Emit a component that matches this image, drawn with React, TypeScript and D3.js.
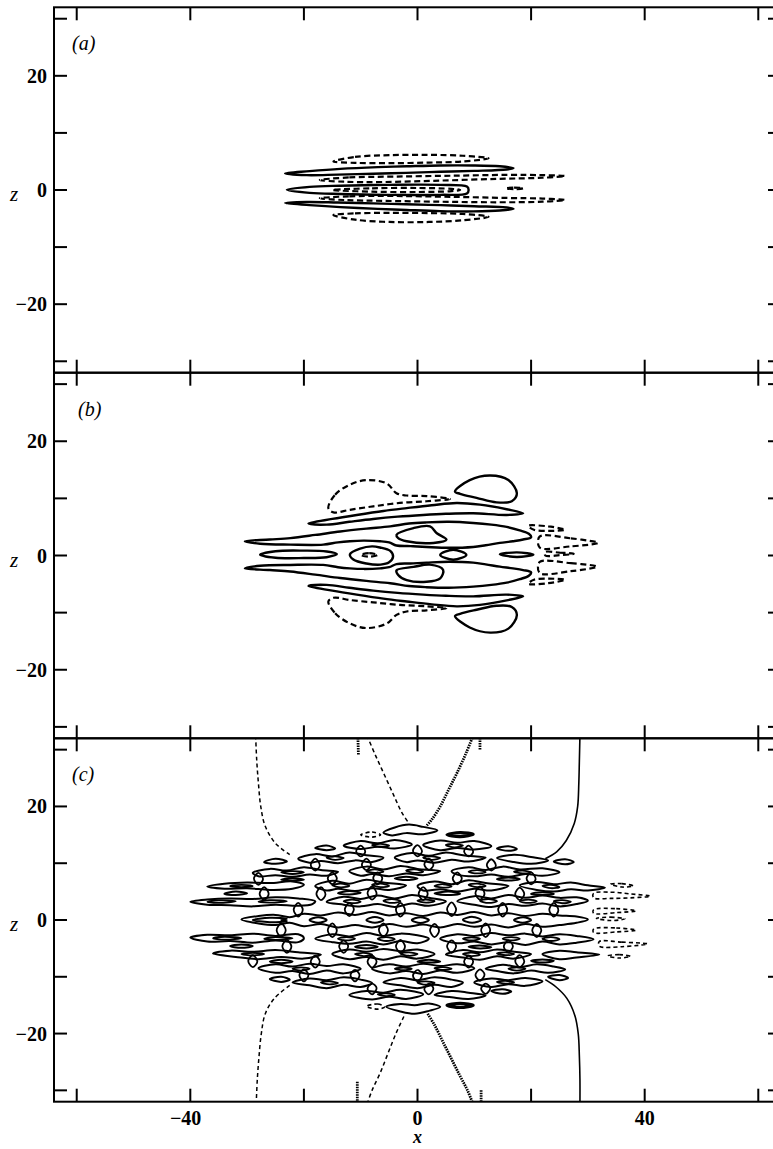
import React from "react";
import * as d3 from "d3";

type Pt = [number, number];

const W = 773;
const H = 1149;

// axes
const xTicks = [-60, -40, -20, 0, 20, 40, 60];
const xLabelTicks = [-40, 0, 40];
const zTicks = [-30, -20, -10, 0, 10, 20, 30];
const zLabelTicks = [-20, 0, 20];
const panelNames = ["(a)", "(b)", "(c)"];
const xDomain: Pt = [-64, 64];
const zDomain: Pt = [-32, 32];

// ---- panel (a) contours, (x, z) ----
const aSolid: Pt[][] = [
  [[-23.3, 2.9], [-19, 3.3], [-13.6, 3.7], [-7, 4.0], [-1.9, 4.15], [4, 4.3], [9.8, 4.3], [14.5, 4.15], [16.9, 3.85], [15.7, 3.6], [10, 3.35], [4, 3.2], [-2, 3.0], [-7.8, 2.85], [-14, 2.7], [-19.5, 2.6]],
  [[-23, 0.05], [-19, 0.55], [-13.6, 0.75], [-5, 0.9], [4, 0.9], [8.7, 0.6], [9.0, 0.0], [8.7, -0.6], [4, -0.85], [-5, -0.85], [-13.6, -0.7], [-19, -0.5]],
  [[-23.3, -2.3], [-19, -2.65], [-13.6, -3.0], [-7, -3.3], [-1.9, -3.5], [4, -3.7], [9.8, -3.75], [14.5, -3.6], [16.9, -3.3], [15.7, -3.05], [10, -2.85], [4, -2.65], [-2, -2.5], [-7.8, -2.35], [-14, -2.2], [-19.5, -2.1]],
];
const aDashed: Pt[][] = [
  [[-14.8, 5.0], [-11, 5.8], [-5, 6.1], [2, 6.15], [8, 6.0], [12.5, 5.55], [8, 5.0], [2, 4.8], [-5, 4.7], [-11, 4.75]],
  [[-17.2, 1.75], [-12, 2.2], [-4, 2.35], [6, 2.5], [16, 2.65], [22, 2.6], [26, 2.45], [22, 2.15], [14, 1.95], [4, 1.65], [-6, 1.4], [-13, 1.45]],
  [[-15, 0.0], [-8, 0.3], [0, 0.35], [6, 0.2], [7.5, 0.0], [6, -0.2], [0, -0.35], [-8, -0.3]],
  [[15.5, 0.3], [17, 0.4], [18.6, 0.3], [17, 0.15]],
  [[-17.2, -1.45], [-12, -1.1], [-4, -1.05], [6, -1.2], [16, -1.4], [22, -1.5], [26, -1.75], [22, -2.05], [14, -2.15], [4, -2.05], [-6, -1.9], [-13, -1.75]],
  [[-14.8, -4.4], [-11, -4.1], [-5, -4.0], [2, -4.05], [8, -4.2], [12.5, -4.7], [8, -5.3], [2, -5.6], [-5, -5.6], [-11, -5.2]],
];

// ---- panel (b) contours ----
const bSolid: Pt[][] = [
  [[6.6, 11.2], [9.2, 13.2], [12.8, 14.0], [16.0, 13.2], [17.5, 10.9], [16.6, 9.5], [13.9, 9.3], [10.4, 10.1], [7.5, 10.8]],
  [[6.6, -10.6], [9.2, -12.6], [12.8, -13.5], [16.0, -12.8], [17.5, -10.4], [16.6, -9.0], [13.9, -8.8], [10.4, -9.5], [7.5, -10.2]],
  [[-19.2, 5.6], [-15, 6.4], [-10.7, 7.1], [-6, 7.8], [-1.9, 8.3], [2.5, 8.8], [6.9, 9.2], [11, 8.9], [15.7, 8.1], [18.6, 7.4], [15.7, 7.1], [9.8, 7.4], [5, 7.3], [1.0, 7.1], [-3.5, 6.8], [-7.8, 6.4], [-12, 5.9], [-16, 5.4]],
  [[-19.2, -5.35], [-15, -6.15], [-10.7, -6.85], [-6, -7.55], [-1.9, -8.05], [2.5, -8.55], [6.9, -8.9], [11, -8.65], [15.7, -7.85], [18.6, -7.15], [15.7, -6.85], [9.8, -7.15], [5, -7.05], [1, -6.85], [-3.5, -6.55], [-7.8, -6.15], [-12, -5.65], [-16, -5.15]],
  [[-30.4, 2.5], [-26, 2.8], [-22.4, 3.05], [-18, 3.6], [-13.6, 4.2], [-9, 4.7], [-4.8, 5.1], [-1.5, 5.6], [1.6, 5.8], [5.5, 5.9], [9.8, 5.7], [13, 5.4], [15.7, 5.0], [18, 4.4], [19.6, 3.8], [20, 3.2], [18.6, 2.8], [16.8, 2.5], [14.5, 2.2], [12, 1.8], [9.8, 1.5], [5.5, 1.35], [1.6, 1.5], [-1.2, 1.65], [-3.7, 1.75], [-5, 2.3], [-6.6, 2.5], [-9.5, 2.6], [-11.9, 2.5], [-14, 2.3], [-16.6, 1.9], [-22.4, 1.9], [-27.7, 2.05]],
  [[-30.4, -2.25], [-26, -2.55], [-22.4, -2.8], [-18, -3.35], [-13.6, -3.95], [-9, -4.45], [-4.8, -4.85], [-1.5, -5.35], [1.6, -5.55], [5.5, -5.65], [9.8, -5.45], [13, -5.15], [15.7, -4.75], [18, -4.15], [19.6, -3.55], [20, -2.95], [18.6, -2.55], [16.8, -2.25], [14.5, -1.95], [12, -1.55], [9.8, -1.25], [5.5, -1.1], [1.6, -1.25], [-1.2, -1.4], [-3.7, -1.5], [-5, -2.05], [-6.6, -2.25], [-9.5, -2.35], [-11.9, -2.25], [-14, -2.05], [-16.6, -1.65], [-22.4, -1.65], [-27.7, -1.8]],
  [[-27.7, 0.15], [-25, 0.75], [-20, 0.85], [-16, 0.7], [-14.2, 0.25], [-16, -0.3], [-20, -0.45], [-25, -0.4]],
  [[-11.9, 0.2], [-10.1, 1.2], [-8, 1.6], [-6.6, 1.4], [-4.8, 0.8], [-4.3, -0.2], [-5, -1.2], [-6.5, -1.6], [-9, -1.4], [-11.3, -0.7]],
  [[-3.7, 3.6], [-0.7, 4.8], [2.2, 5.1], [3.4, 3.9], [5.1, 2.8], [2.8, 2.2], [-1.9, 2.5], [-3.4, 3.05]],
  [[-3.7, -2.6], [-0.7, -2.0], [2.2, -1.6], [4.5, -2.5], [4, -4], [1.6, -4.6], [-1.9, -4.3], [-3.4, -3.4]],
  [[4, 0.1], [6.3, 1.0], [8.6, 0.1], [6.3, -0.75]],
  [[14.5, 0.2], [17.5, 0.55], [20.4, 0.15], [17.5, -0.25]],
];
const bDashed: Pt[][] = [
  [[-15.7, 8.3], [-14.5, 10.65], [-11.9, 12.4], [-8.95, 13.2], [-5.4, 12.6], [-3.7, 10.9], [-1.9, 10.5], [1.6, 10.4], [5.7, 9.9], [1.6, 9.5], [-3.1, 9.2], [-7.8, 8.6], [-11.9, 8.0], [-14.8, 7.55]],
  [[-15.7, -8.06], [-14.5, -10.1], [-11.9, -11.9], [-8.95, -12.7], [-5.4, -11.9], [-3.7, -10.4], [-1.9, -9.8], [1.6, -9.6], [5.1, -9.2], [1.6, -8.9], [-3.1, -8.65], [-7.8, -8.2], [-11.9, -7.8], [-14.8, -7.4]],
  [[19.5, 5.2], [23, 5.1], [26, 4.5], [23, 4.3], [20.5, 4.5]],
  [[21.5, 3.3], [27, 3.0], [31.8, 2.2], [27, 1.6], [21.5, 1.4]],
  [[22.5, 0.6], [25, 0.5], [27.5, 0.3], [25, 0.05], [22.5, 0.0]],
  [[21.5, -1.15], [27, -1.35], [31.6, -1.95], [27, -2.75], [21.5, -3.05]],
  [[19.5, -4.95], [23, -4.85], [26, -4.25], [23, -4.05], [20.5, -4.25]],
  [[-10, 0.1], [-8.5, 0.4], [-7, 0.1], [-8.5, -0.2]],
];

// ---- panel (c) contours ----
const cSolid: Pt[][] = [
  // centre band
  [[-31, 0.1], [-28, 0.7], [-25, 0.9], [-22.5, 0.5], [-20, 1.1], [-17, 0.8], [-14, 1.3], [-11, 0.9], [-8, 1.4], [-5, 0.8], [-2, 1.2], [1, 0.7], [4, 1.3], [7, 0.9], [10, 1.4], [13, 0.8], [16, 1.2], [19, 0.7], [22, 1.1], [25, 0.8], [28, 0.6], [30, 0.1], [28, -0.5], [25, -0.9], [22, -1.2], [19, -0.7], [16, -1.3], [13, -0.8], [10, -1.2], [7, -0.7], [4, -1.3], [1, -0.8], [-2, -1.2], [-5, -0.7], [-8, -1.3], [-11, -0.9], [-14, -1.3], [-17, -0.7], [-20, -1.1], [-22.5, -0.5], [-25, -0.9], [-28, -0.6]],
  [[-19, 0], [-17.5, 0.5], [-16, 0], [-17.5, -0.5]],
  [[-9, 0], [-7.5, 0.55], [-6, 0], [-7.5, -0.5]],
  [[-1, 0], [0.5, 0.5], [2, 0], [0.5, -0.55]],
  [[8, 0.05], [9.7, 0.55], [11.2, 0], [9.6, -0.5]],
  [[17, 0], [18.6, 0.5], [20, 0], [18.5, -0.5]],
  [[-29, 0], [-26, 0.4], [-23, 0.2], [-24, 0], [-23, -0.2], [-26, -0.4]],
  // upper bands
  [[-40, 3.2], [-37, 3.6], [-33, 3.8], [-29, 3.7], [-25, 4.0], [-21, 3.8], [-18, 3.3], [-18.5, 2.8], [-21, 2.5], [-25, 2.7], [-29, 2.4], [-33, 2.6], [-37, 2.7]],
  [[-16, 3.2], [-13, 4.1], [-10, 3.7], [-7, 4.3], [-4, 3.8], [-1, 4.4], [2, 3.9], [5, 3.3], [2, 2.5], [-1, 2.9], [-4, 2.3], [-7, 2.8], [-10, 2.4], [-13, 2.7]],
  [[7, 3.3], [10, 4.2], [13, 3.8], [16, 4.4], [19, 3.9], [22, 4.3], [25, 3.9], [28, 4.0], [30, 3.4], [28, 2.8], [25, 2.4], [22, 2.9], [19, 2.5], [16, 2.8], [13, 2.3], [10, 2.7]],
  [[-37, 5.9], [-34, 6.4], [-30, 6.6], [-26, 6.5], [-22, 6.8], [-20, 6.2], [-22, 5.5], [-26, 5.3], [-30, 5.6], [-34, 5.5]],
  [[-18, 6.0], [-15, 6.9], [-12, 6.4], [-9, 7.1], [-6, 6.6], [-2, 6.1], [-5, 5.3], [-8, 5.6], [-11, 5.1], [-14, 5.5], [-16, 5.2]],
  [[0, 6.0], [3, 6.8], [6, 6.3], [9, 7.0], [12, 6.5], [16, 6.0], [13, 5.2], [10, 5.5], [7, 5.0], [4, 5.4], [1, 5.2]],
  [[18, 6.1], [21, 6.7], [24, 6.3], [27, 6.6], [30, 6.1], [33, 5.7], [30, 5.2], [27, 5.4], [24, 5.0], [21, 5.3]],
  [[-29, 8.3], [-26, 9.0], [-23, 8.7], [-20, 9.3], [-17, 8.8], [-14, 8.5], [-16, 7.8], [-19, 8.0], [-22, 7.6], [-25, 7.9], [-28, 7.7]],
  [[-12, 8.6], [-9, 9.4], [-6, 8.9], [-3, 9.5], [0, 9.0], [4, 8.6], [1, 7.9], [-2, 8.2], [-5, 7.7], [-8, 8.1], [-10, 7.8]],
  [[6, 8.6], [9, 9.3], [12, 8.8], [15, 9.4], [18, 8.9], [22, 9.1], [25, 8.4], [22, 7.8], [19, 8.1], [16, 7.6], [13, 8.0], [10, 7.7], [7, 8.0]],
  [[-21, 10.8], [-18, 11.6], [-15, 11.2], [-12, 11.9], [-9, 11.4], [-6, 11.0], [-8, 10.2], [-11, 10.5], [-14, 10.0], [-17, 10.4], [-19, 10.1]],
  [[-4, 11.0], [-1, 11.8], [2, 11.3], [5, 11.9], [8, 11.4], [12, 11.0], [9, 10.3], [6, 10.6], [3, 10.1], [0, 10.5], [-2, 10.2]],
  [[14, 10.9], [17, 11.5], [20, 11.1], [23, 10.5], [20, 9.9], [17, 10.2]],
  [[-13, 13.1], [-10, 13.9], [-7, 13.5], [-4, 14.1], [-1, 13.3], [-4, 12.6], [-7, 12.9], [-10, 12.5]],
  [[1, 13.2], [4, 14.0], [7, 13.6], [10, 13.9], [13, 13.0], [10, 12.4], [7, 12.7], [4, 12.3]],
  [[-6, 15.4], [-4, 16.3], [-1.5, 16.8], [1, 16.4], [3.5, 15.8], [1, 15.1], [-2, 15.3], [-4.5, 14.9]],
  [[-34, 4.6], [-32, 5.0], [-30, 4.7], [-32, 4.4]],
  [[-14, 4.7], [-12, 5.1], [-10, 4.8], [-12, 4.5]],
  [[3, 4.7], [5.5, 5.0], [7.5, 4.6], [5, 4.4]],
  [[20, 4.6], [22, 4.9], [24, 4.6], [22, 4.4]],
  [[-24, 7.1], [-22, 7.4], [-20, 7.1], [-22, 6.95]],
  [[-4, 7.3], [-2, 7.6], [0, 7.3], [-2, 7.05]],
  [[14, 7.2], [16, 7.5], [18, 7.2], [16, 6.95]],
  [[-27, 10.2], [-25, 10.8], [-23, 10.3], [-25, 9.9]],
  [[24, 10.3], [26, 10.7], [27.5, 10.2], [26, 9.8]],
  [[14, 12.6], [16, 13.0], [17.5, 12.5], [16, 12.2]],
  [[-18, 12.7], [-16, 13.1], [-14.5, 12.6], [-16, 12.3]],
  // lower bands
  [[-40, -3.1], [-37, -2.6], [-33, -2.7], [-29, -2.4], [-25, -2.8], [-21, -2.5], [-20, -3.2], [-21, -3.9], [-25, -3.6], [-29, -4.0], [-33, -3.7], [-37, -3.8]],
  [[-18, -3.3], [-15, -2.5], [-12, -2.9], [-9, -2.3], [-6, -2.8], [-3, -2.4], [0, -2.7], [2, -3.3], [0, -4.1], [-3, -3.7], [-6, -4.3], [-9, -3.8], [-12, -4.2], [-15, -3.9]],
  [[4, -3.3], [7, -2.5], [10, -2.8], [13, -2.3], [16, -2.7], [19, -2.4], [22, -2.9], [25, -2.5], [28, -2.8], [31, -3.4], [28, -4.0], [25, -4.3], [22, -3.8], [19, -4.4], [16, -3.9], [13, -4.3], [10, -3.8], [7, -4.1]],
  [[-36, -5.9], [-33, -5.4], [-29, -5.6], [-25, -5.3], [-21, -5.7], [-17, -6.1], [-20, -6.8], [-24, -6.5], [-28, -6.9], [-32, -6.5]],
  [[-15, -6.0], [-12, -5.2], [-9, -5.6], [-6, -5.1], [-3, -5.5], [0, -5.2], [3, -6.0], [0, -6.8], [-3, -6.4], [-6, -7.0], [-9, -6.5], [-12, -6.9]],
  [[5, -6.1], [8, -5.3], [11, -5.7], [14, -5.2], [17, -5.6], [20, -6.0], [17, -6.8], [14, -6.4], [11, -7.0], [8, -6.6]],
  [[22, -6.0], [25, -5.4], [28, -5.7], [32, -6.1], [28, -6.6], [25, -6.9]],
  [[-28, -8.5], [-25, -7.8], [-22, -8.2], [-19, -7.7], [-16, -8.1], [-13, -7.8], [-10, -8.6], [-13, -9.4], [-16, -8.9], [-19, -9.5], [-22, -9.0], [-25, -9.3]],
  [[-8, -8.6], [-5, -7.8], [-2, -8.2], [1, -7.7], [4, -8.1], [7, -7.8], [10, -8.5], [7, -9.3], [4, -8.9], [1, -9.5], [-2, -9.0], [-5, -9.4]],
  [[12, -8.6], [15, -7.9], [18, -8.3], [21, -7.8], [24, -8.2], [26, -8.7], [23, -9.3], [20, -8.9], [17, -9.4], [14, -9.0]],
  [[-22, -11.0], [-19, -10.3], [-16, -10.6], [-13, -10.1], [-10, -10.5], [-8, -11.1], [-10, -11.8], [-13, -11.4], [-16, -12.0], [-19, -11.5]],
  [[-6, -11.0], [-3, -10.2], [0, -10.6], [3, -10.1], [6, -10.5], [8, -11.0], [6, -11.8], [3, -11.4], [0, -12.0], [-3, -11.5]],
  [[10, -11.0], [13, -10.3], [16, -10.6], [19, -10.2], [22, -10.8], [19, -11.6], [16, -11.3], [13, -11.8]],
  [[-12, -13.2], [-9, -12.5], [-6, -12.8], [-3, -12.3], [1, -13.1], [-2, -13.9], [-5, -13.5], [-8, -14.0]],
  [[3, -13.2], [6, -12.5], [9, -12.8], [12, -13.3], [9, -13.9], [6, -13.6]],
  [[-5.5, -15.3], [-3, -14.8], [-0.5, -15.0], [2, -14.7], [4, -15.3], [2, -16.0], [-0.5, -16.5], [-3, -16.1]],
  [[-33, -4.6], [-31, -4.3], [-29, -4.6], [-31, -4.9]],
  [[-11, -4.7], [-9, -4.4], [-7, -4.7], [-9, -5.0]],
  [[9, -4.7], [11, -4.5], [13, -4.8], [11, -5.0]],
  [[-26, -7.3], [-24, -7.0], [-22, -7.3], [-24, -7.6]],
  [[0, -7.3], [2, -7.0], [4, -7.3], [2, -7.5]],
  [[20, -7.2], [22, -6.95], [24, -7.2], [22, -7.5]],
  [[-26, -10.4], [-24, -10.0], [-22.5, -10.5], [-24, -10.9]],
  [[23, -10.0], [25, -9.7], [26.5, -10.2], [25, -10.6]],
  [[13, -12.5], [15, -12.2], [16.5, -12.6], [15, -13.0]],
];
// small cells nested inside the bands of (c)
const cCells: Pt[][] = [
  [[-37, 3.2], [-35, 3.45], [-32, 3.3], [-35, 3.0]],
  [[-28, 3.2], [-26, 3.5], [-23, 3.3], [-26, 3.05]],
  [[-13, 3.3], [-11.5, 3.6], [-10, 3.2], [-11.5, 2.95]],
  [[-6, 3.4], [-4.5, 3.7], [-3, 3.3], [-4.5, 3.0]],
  [[0, 3.4], [1.5, 3.6], [3, 3.3], [1.5, 3.05]],
  [[11, 3.4], [12.5, 3.7], [14, 3.3], [12.5, 3.0]],
  [[18, 3.3], [19.5, 3.6], [21, 3.3], [19.5, 3.0]],
  [[24, 3.3], [25.5, 3.5], [27, 3.2], [25.5, 2.95]],
  [[-33, 6.0], [-31, 6.2], [-29, 6.0], [-31, 5.8]],
  [[-15, 6.1], [-13.5, 6.4], [-12, 6.0], [-13.5, 5.75]],
  [[-8, 6.2], [-6.5, 6.4], [-5, 6.0], [-6.5, 5.8]],
  [[3, 6.0], [4.5, 6.3], [6, 5.9], [4.5, 5.7]],
  [[9, 6.2], [10.5, 6.4], [12, 6.0], [10.5, 5.8]],
  [[22, 6.0], [23.5, 6.2], [25, 5.8], [23.5, 5.6]],
  [[-24, 8.4], [-22, 8.6], [-20, 8.4], [-22, 8.1]],
  [[-9, 8.6], [-7.5, 8.9], [-6, 8.5], [-7.5, 8.3]],
  [[-2, 8.7], [-0.5, 8.9], [1, 8.5], [-0.5, 8.3]],
  [[9, 8.5], [10.5, 8.8], [12, 8.4], [10.5, 8.2]],
  [[17, 8.5], [18.5, 8.7], [20, 8.4], [18.5, 8.2]],
  [[-16, 11.0], [-14.5, 11.2], [-13, 10.9], [-14.5, 10.6]],
  [[1, 11.0], [2.5, 11.2], [4, 10.9], [2.5, 10.6]],
  [[-8, 13.2], [-6.5, 13.4], [-5, 13.1], [-6.5, 12.9]],
  [[5, 13.2], [6.5, 13.4], [8, 13.1], [6.5, 12.8]],
  [[-36, -3.2], [-34, -2.95], [-31, -3.2], [-34, -3.45]],
  [[-27, -3.3], [-25, -3.0], [-22, -3.2], [-25, -3.5]],
  [[-14, -3.3], [-12.5, -3.0], [-11, -3.3], [-12.5, -3.6]],
  [[-7, -3.3], [-5.5, -3.0], [-4, -3.4], [-5.5, -3.7]],
  [[8, -3.3], [9.5, -3.05], [11, -3.3], [9.5, -3.6]],
  [[15, -3.3], [16.5, -3.0], [18, -3.3], [16.5, -3.6]],
  [[22, -3.3], [23.5, -3.0], [25, -3.4], [23.5, -3.7]],
  [[-31, -6.0], [-29, -5.8], [-27, -6.0], [-29, -6.25]],
  [[-11, -6.0], [-9.5, -5.8], [-8, -6.1], [-9.5, -6.35]],
  [[-3, -5.9], [-1.5, -5.7], [0, -6.0], [-1.5, -6.3]],
  [[8, -6.0], [9.5, -5.75], [11, -6.1], [9.5, -6.35]],
  [[14, -5.9], [15.5, -5.7], [17, -6.0], [15.5, -6.2]],
  [[-22, -8.6], [-20.5, -8.35], [-19, -8.6], [-20.5, -8.9]],
  [[-4, -8.6], [-2.5, -8.4], [-1, -8.6], [-2.5, -8.85]],
  [[3, -8.5], [4.5, -8.3], [6, -8.6], [4.5, -8.8]],
  [[16, -8.6], [17.5, -8.35], [19, -8.6], [17.5, -8.9]],
  [[-17, -11.0], [-15.5, -10.8], [-14, -11.1], [-15.5, -11.35]],
  [[0, -11.0], [1.5, -10.8], [3, -11.1], [1.5, -11.4]],
  [[14, -10.9], [15.5, -10.7], [17, -11.0], [15.5, -11.2]],
  [[-7, -13.1], [-5.5, -12.9], [-4, -13.2], [-5.5, -13.4]],
];
// narrow loops joining neighbouring bands of (c)
const cBridges: Pt[][] = [
  [[-21.8, 1.8], [-21, 3.0], [-20.2, 1.8], [-21, 0.6]],
  [[-12.8, 1.8], [-12, 3.0], [-11.2, 1.9], [-12, 0.7]],
  [[-3.8, 1.8], [-3, 3.0], [-2.2, 1.7], [-3, 0.6]],
  [[5.2, 1.9], [6, 3.1], [6.8, 1.8], [6, 0.7]],
  [[14.2, 1.8], [15, 3.0], [15.8, 1.8], [15, 0.6]],
  [[23.2, 1.8], [24, 3.0], [24.8, 1.7], [24, 0.6]],
  [[-27.8, 4.6], [-27, 5.8], [-26.2, 4.6], [-27, 3.5]],
  [[-17.8, 4.6], [-17, 5.8], [-16.2, 4.5], [-17, 3.5]],
  [[-8.8, 4.7], [-8, 5.9], [-7.2, 4.6], [-8, 3.6]],
  [[0.2, 4.6], [1, 5.8], [1.8, 4.6], [1, 3.5]],
  [[10.2, 4.7], [11, 5.9], [11.8, 4.6], [11, 3.6]],
  [[17.2, 4.6], [18, 5.7], [18.8, 4.6], [18, 3.5]],
  [[-28.8, 7.3], [-28, 8.3], [-27.2, 7.2], [-28, 6.2]],
  [[-15.8, 7.3], [-15, 8.4], [-14.2, 7.3], [-15, 6.3]],
  [[-7.8, 7.4], [-7, 8.4], [-6.2, 7.3], [-7, 6.3]],
  [[6.2, 7.3], [7, 8.4], [7.8, 7.3], [7, 6.3]],
  [[19.2, 7.3], [20, 8.4], [20.8, 7.2], [20, 6.3]],
  [[-18.8, 9.7], [-18, 10.8], [-17.2, 9.6], [-18, 8.7]],
  [[-9.8, 9.7], [-9, 10.8], [-8.2, 9.7], [-9, 8.8]],
  [[1.2, 9.8], [2, 10.8], [2.8, 9.7], [2, 8.8]],
  [[12.2, 9.7], [13, 10.7], [13.8, 9.6], [13, 8.7]],
  [[-10.8, 12.1], [-10, 13.1], [-9.2, 12.0], [-10, 11.2]],
  [[-0.8, 12.2], [0, 13.2], [0.8, 12.1], [0, 11.2]],
  [[8.2, 12.1], [9, 13.1], [9.8, 12.0], [9, 11.2]],
  [[-24.8, -1.8], [-24, -0.6], [-23.2, -1.8], [-24, -3.0]],
  [[-15.8, -1.8], [-15, -0.6], [-14.2, -1.9], [-15, -3.0]],
  [[-6.8, -1.7], [-6, -0.6], [-5.2, -1.8], [-6, -3.0]],
  [[2.2, -1.8], [3, -0.7], [3.8, -1.9], [3, -3.0]],
  [[11.2, -1.8], [12, -0.6], [12.8, -1.8], [12, -3.0]],
  [[20.2, -1.8], [21, -0.7], [21.8, -1.8], [21, -3.0]],
  [[-23.8, -4.6], [-23, -3.5], [-22.2, -4.7], [-23, -5.8]],
  [[-13.8, -4.6], [-13, -3.6], [-12.2, -4.6], [-13, -5.8]],
  [[-3.8, -4.6], [-3, -3.5], [-2.2, -4.7], [-3, -5.8]],
  [[5.2, -4.6], [6, -3.6], [6.8, -4.6], [6, -5.8]],
  [[15.2, -4.7], [16, -3.6], [16.8, -4.6], [16, -5.7]],
  [[-29.8, -7.2], [-29, -6.2], [-28.2, -7.3], [-29, -8.3]],
  [[-18.8, -7.3], [-18, -6.3], [-17.2, -7.3], [-18, -8.4]],
  [[-8.8, -7.3], [-8, -6.3], [-7.2, -7.3], [-8, -8.4]],
  [[8.2, -7.3], [9, -6.3], [9.8, -7.3], [9, -8.4]],
  [[17.2, -7.2], [18, -6.2], [18.8, -7.3], [18, -8.3]],
  [[-20.8, -9.7], [-20, -8.7], [-19.2, -9.7], [-20, -10.8]],
  [[-11.8, -9.7], [-11, -8.8], [-10.2, -9.7], [-11, -10.8]],
  [[-0.8, -9.8], [0, -8.8], [0.8, -9.7], [0, -10.8]],
  [[10.2, -9.7], [11, -8.7], [11.8, -9.6], [11, -10.7]],
  [[-8.8, -12.1], [-8, -11.2], [-7.2, -12.0], [-8, -13.1]],
  [[1.2, -12.2], [2, -11.2], [2.8, -12.1], [2, -13.1]],
  [[11.2, -12.1], [12, -11.2], [12.8, -12.0], [12, -13.0]],
];
const cThick: Pt[][] = [
  [[5.2, 15.0], [7.5, 15.4], [9.8, 15.1], [7.5, 14.7]],
  [[5.2, -15.0], [7.5, -14.7], [9.8, -15.0], [7.5, -15.4]],
];
const cDashed: Pt[][] = [
  [[31, 4.7], [34, 4.9], [37.5, 4.6], [41, 4.2], [37.5, 3.9], [34, 3.8], [31, 3.9]],
  [[31, 1.8], [35, 2.0], [38.5, 1.6], [35, 1.3], [31, 1.2]],
  [[31.5, 0.3], [34, 0.5], [36.5, 0.2], [34, -0.1]],
  [[31, -1.6], [35, -1.4], [38.5, -1.8], [35, -2.1], [31, -2.2]],
  [[32, -3.8], [36, -3.9], [40.5, -4.2], [36, -4.7], [32, -4.6]],
  [[34, 6.3], [36, 6.4], [38, 6.0], [36, 5.8]],
  [[33.5, -6.3], [35.5, -6.1], [37.5, -6.4], [35.5, -6.7]],
  [[-10, 15.0], [-8, 15.5], [-6.5, 15.0], [-8, 14.6]],
  [[-9, -15.2], [-7, -14.8], [-5.8, -15.3], [-7, -15.7]],
];
// open curves running off the panel edges
const cSolidLines: Pt[][] = [
  [[28.6, 32.5], [28.5, 28], [28.4, 24], [28.2, 20], [27.6, 17], [26.2, 14], [24.5, 12], [22.5, 10.8]],
  [[22.5, -10.5], [24.4, -11.8], [26.3, -13.8], [27.7, -16.8], [28.3, -20], [28.5, -24], [28.6, -28], [28.6, -32.5]],
];
const cDashedLines: Pt[][] = [
  [[-28.5, 32.5], [-28.3, 28], [-28.0, 24], [-27.6, 20], [-26.8, 16.5], [-25.0, 13.5], [-22.5, 11.5]],
  [[-22.5, -11.5], [-25.2, -13.8], [-26.8, -16.5], [-27.5, -20], [-27.9, -24], [-28.2, -28], [-28.4, -32.5]],
  [[-8.9, 32.5], [-7.4, 29], [-5.8, 25.5], [-4.2, 22], [-2.8, 19], [-1.5, 17]],
  [[-2.4, -17], [-3.8, -20], [-5.2, -23.5], [-6.6, -27], [-8.0, -30], [-8.9, -32.5]],
];
const cDottedLines: Pt[][] = [
  [[9.8, 32.5], [8.6, 29.5], [7.0, 26], [5.5, 23], [4.0, 20], [2.6, 17.8], [1.5, 16.5]],
  [[1.8, -16.5], [3.0, -18.5], [4.5, -21.5], [6.0, -24.5], [7.5, -27.5], [8.8, -30], [9.8, -32.5]],
  [[-10.5, 32.5], [-10.4, 29]],
  [[-10.6, -28.5], [-10.6, -32.5]],
  [[11, 32.5], [11, 30]],
  [[11.2, -30], [11.2, -32.5]],
];

type Layer = { loops: Pt[][]; closed: boolean; width: number; dash?: string };

const panelLayers: Layer[][] = [
  [
    { loops: aSolid, closed: true, width: 2.4 },
    { loops: aDashed, closed: true, width: 2.2, dash: "6,3.5" },
  ],
  [
    { loops: bSolid, closed: true, width: 2.4 },
    { loops: bDashed, closed: true, width: 2.2, dash: "6,3.5" },
  ],
  [
    { loops: cSolid, closed: true, width: 2 },
    { loops: cCells, closed: true, width: 1.8 },
    { loops: cBridges, closed: true, width: 1.8 },
    { loops: cThick, closed: true, width: 3.2 },
    { loops: cDashed, closed: true, width: 1.6, dash: "4,3" },
    { loops: cSolidLines, closed: false, width: 1.6 },
    { loops: cDashedLines, closed: false, width: 1.5, dash: "4,3" },
    { loops: cDottedLines, closed: false, width: 2.8, dash: "1.5,1" },
  ],
];

const panelEdges = [7.3, 372.7, 738.3, 1101.7];
const font = "'Liberation Serif', 'Times New Roman', serif";

const x = d3.scaleLinear().domain(xDomain).range([54, 781]);

const fmt = (v: number) => (v < 0 ? `\u2212${Math.abs(v)}` : `${v}`);

function Panel({ i }: { i: number }) {
  const top = panelEdges[i];
  const bottom = panelEdges[i + 1];
  const y = d3.scaleLinear().domain(zDomain).range([bottom, top]);
  const closedLine = d3
    .line<Pt>()
    .x((d) => x(d[0]))
    .y((d) => y(d[1]))
    .curve(d3.curveCatmullRomClosed.alpha(0.5));
  const openLine = d3
    .line<Pt>()
    .x((d) => x(d[0]))
    .y((d) => y(d[1]))
    .curve(d3.curveCatmullRom.alpha(0.5));
  const x0 = x(xDomain[0]);
  const x1 = x(xDomain[1]);
  const tl = 13;

  return (
    <g>
      <clipPath id={`clip${i}`}>
        <rect x={x0} y={top} width={x1 - x0} height={bottom - top} />
      </clipPath>
      <g clipPath={`url(#clip${i})`} fill="none" stroke="#000" strokeLinejoin="round">
        {panelLayers[i].map((layer, li) =>
          layer.loops.map((pts, k) => (
            <path
              key={`${li}-${k}`}
              d={(layer.closed ? closedLine : openLine)(pts) || ""}
              strokeWidth={layer.width}
              strokeDasharray={layer.dash}
            />
          ))
        )}
      </g>
      <rect x={x0} y={top} width={x1 - x0} height={bottom - top} fill="none" stroke="#000" strokeWidth={2} />
      {xTicks.map((t) => (
        <g key={`xt${t}`} stroke="#000" strokeWidth={2}>
          <line x1={x(t)} x2={x(t)} y1={top} y2={top + tl} />
          <line x1={x(t)} x2={x(t)} y1={bottom} y2={bottom - tl} />
        </g>
      ))}
      {zTicks.map((t) => (
        <g key={`zt${t}`} stroke="#000" strokeWidth={2}>
          <line x1={x0} x2={x0 + tl} y1={y(t)} y2={y(t)} />
          <line x1={x1} x2={x1 - tl} y1={y(t)} y2={y(t)} />
        </g>
      ))}
      {zLabelTicks.map((t) => (
        <text key={`zl${t}`} x={47} y={y(t) + 7} fontSize={20} fontWeight="bold" textAnchor="end" fontFamily={font}>
          {fmt(t)}
        </text>
      ))}
      <text x={14} y={y(0) + 11} fontSize={21} fontStyle="italic" textAnchor="middle" fontFamily={font}>
        z
      </text>
      <text x={i === 1 ? 78 : 72} y={top + 43} fontSize={20} fontStyle="italic" fontFamily={font}>
        {panelNames[i]}
      </text>
    </g>
  );
}

export default function App() {
  return (
    <svg
      width={W}
      height={H}
      style={{ position: "absolute", left: 0, top: 0, background: "#fff" }}
    >
      {[0, 1, 2].map((i) => (
        <Panel key={i} i={i} />
      ))}
      {xLabelTicks.map((t) => (
        <text
          key={`xl${t}`}
          x={t < 0 ? x(t) + 11 : x(t)}
          y={1125}
          fontSize={20}
          fontWeight="bold"
          textAnchor={t < 0 ? "end" : "middle"}
          fontFamily={font}
        >
          {fmt(t)}
        </text>
      ))}
      <text x={x(0)} y={1143} fontSize={18} fontStyle="italic" fontWeight="bold" textAnchor="middle" fontFamily={font}>
        x
      </text>
    </svg>
  );
}
